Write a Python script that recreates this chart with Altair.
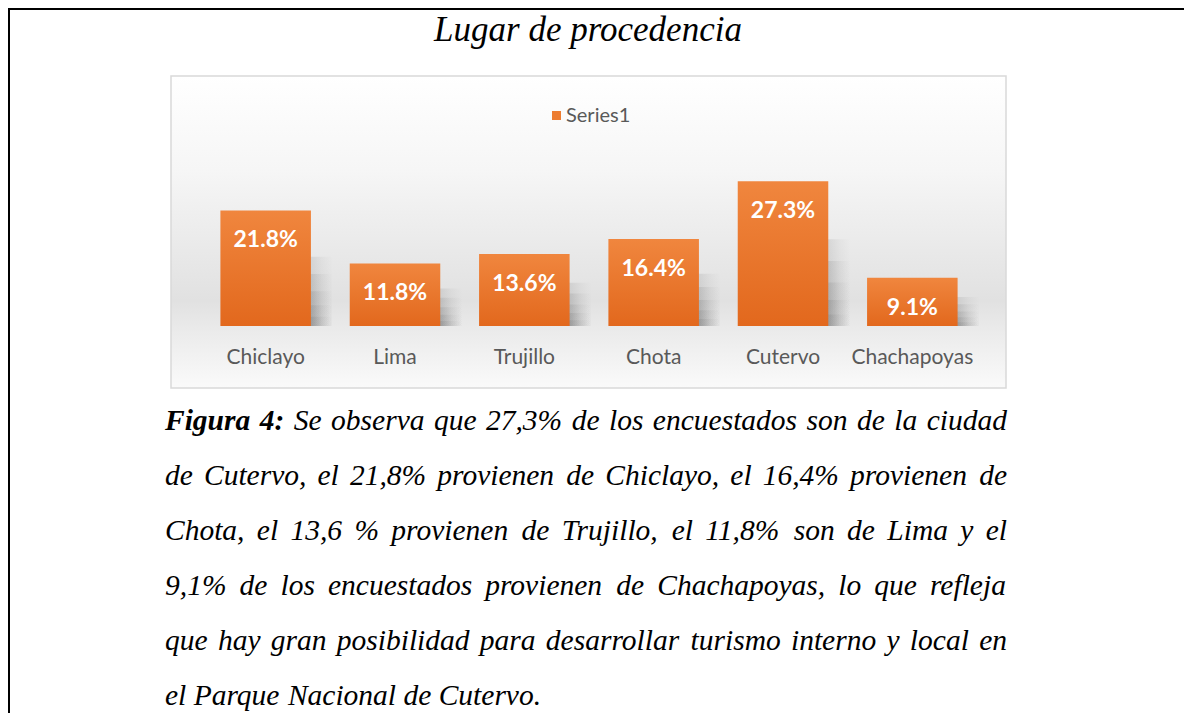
import altair as alt
import pandas as pd

# ---------------- data ----------------
categories = ["Chiclayo", "Lima", "Trujillo", "Chota", "Cutervo", "Chachapoyas"]
values = [21.8, 11.8, 13.6, 16.4, 27.3, 9.1]
value_labels = ["21.8%", "11.8%", "13.6%", "16.4%", "27.3%", "9.1%"]
legend_label = "Series1"
title_text = "Lugar de procedencia"
caption_bold_words = 2  # "Figura 4:"
caption_lines = [
    "Figura 4: Se observa que 27,3% de los encuestados son de la ciudad",
    "de Cutervo, el 21,8% provienen de Chiclayo, el 16,4% provienen de",
    "Chota, el 13,6 % provienen de Trujillo, el 11,8% son de Lima y el",
    "9,1% de los encuestados provienen de Chachapoyas, lo que refleja",
    "que hay gran posibilidad para desarrollar turismo interno y local en",
    "el Parque Nacional de Cutervo.",
]

# ---------------- layout (page pixels) ----------------
OX, OY = 201, 167          # page position of plot-area origin
PLOT_W, PLOT_H = 776, 159
SVG_W, SVG_H = 1176, 705
PAD = {"left": OX - 8, "top": OY - 8,
       "right": SVG_W - (OX - 8) - PLOT_W, "bottom": SVG_H - (OY - 8) - PLOT_H}


def px(x):
    return x - OX


def py(y):
    return y - OY


ORANGE = "#ed7d31"
GRAY_TXT = "#595959"

# Times (Liberation Serif) italic advance widths, per em
IT = {" ": .25, "!": .333, "%": .833, ",": .25, ".": .25, ":": .333,
      "A": .611, "C": .667, "F": .611, "L": .556, "N": .667, "P": .611, "S": .5, "T": .556,
      "a": .5, "b": .5, "c": .444, "d": .5, "e": .444, "f": .278, "g": .5, "h": .5, "i": .278,
      "j": .278, "k": .444, "l": .278, "m": .722, "n": .5, "o": .5, "p": .5, "q": .5, "r": .389,
      "s": .389, "t": .278, "u": .5, "v": .444, "w": .667, "x": .444, "y": .444, "z": .389}
for d in "0123456789":
    IT[d] = .5
BI = dict(IT)
BI.update({"F": .667, "u": .556, ":": .333})

FS = 29.5
LEFT, RIGHT = 165, 1007
BASE0, LEAD = 430, 55

rows_n, rows_b = [], []
for li, line in enumerate(caption_lines):
    words = line.split(" ")
    bold = [li == 0 and wi < caption_bold_words for wi in range(len(words))]
    widths = [sum((BI if b else IT).get(ch, .5) for ch in w) * FS for w, b in zip(words, bold)]
    last = li == len(caption_lines) - 1
    gap = .25 * FS if last else (RIGHT - LEFT - sum(widths)) / (len(words) - 1)
    x = LEFT
    for w, wd, b in zip(words, widths, bold):
        r = {"word": w, "px": px(x), "py": py(BASE0 + li * LEAD)}
        (rows_b if b else rows_n).append(r)
        x += wd + gap

df = pd.DataFrame({"cat": categories, "val": values, "lab": value_labels})
one = pd.DataFrame({"k": [0]})

# ---------------- decorations ----------------
bg_grad = alt.Gradient(gradient="linear", x1=0, x2=0, y1=0, y2=1, stops=[
    alt.GradientStop(color="#ffffff", offset=0),
    alt.GradientStop(color="#f6f6f6", offset=0.3),
    alt.GradientStop(color="#e1e1e1", offset=0.72),
    alt.GradientStop(color="#ebebeb", offset=0.82),
    alt.GradientStop(color="#fafafa", offset=1),
])
bar_grad = alt.Gradient(gradient="linear", x1=0, x2=0, y1=0, y2=1, stops=[
    alt.GradientStop(color="#f0863e", offset=0),
    alt.GradientStop(color="#e2681d", offset=1),
])
shadow_grad = alt.Gradient(gradient="linear", x1=0.76, y1=0, x2=1, y2=0, stops=[
    alt.GradientStop(color="rgba(80,80,80,0.13)", offset=0),
    alt.GradientStop(color="rgba(80,80,80,0.05)", offset=0.5),
    alt.GradientStop(color="rgba(80,80,80,0)", offset=1),
])

frame_top = alt.Chart(one).mark_rule(color="black", strokeWidth=2).encode(
    x=alt.value(px(8)), x2=alt.value(px(1200)), y=alt.value(py(9)))
frame_left = alt.Chart(one).mark_rule(color="black", strokeWidth=2).encode(
    x=alt.value(px(9)), y=alt.value(py(8)), y2=alt.value(py(730)))

box = alt.Chart(one).mark_rect(fill=bg_grad, stroke="#d9d9d9", strokeWidth=1.5).encode(
    x=alt.value(px(171)), x2=alt.value(px(1006)), y=alt.value(py(76)), y2=alt.value(py(388)))

title = alt.Chart(one).mark_text(font="Liberation Serif", fontStyle="italic", fontSize=35,
                                 align="center", baseline="alphabetic", color="black").encode(
    x=alt.value(px(588)), y=alt.value(py(41)), text=alt.value(title_text))

legend_sq = alt.Chart(one).mark_rect(color=ORANGE).encode(
    x=alt.value(px(552)), x2=alt.value(px(561)), y=alt.value(py(111)), y2=alt.value(py(120)))
legend_tx = alt.Chart(one).mark_text(font="Lato", fontSize=20, color=GRAY_TXT,
                                     align="left", baseline="middle").encode(
    x=alt.value(px(566)), y=alt.value(py(116)), text=alt.value(legend_label))

# ---------------- bars ----------------
xenc = alt.X("cat:N", sort=categories,
             scale=alt.Scale(paddingInner=0.3, paddingOuter=0.15), axis=None)
yscale = alt.Scale(domain=[0, 30], nice=False)
yenc = alt.Y("val:Q", scale=yscale, axis=None)

shadow_layers = [
    alt.Chart(df).transform_calculate(sh=f"datum.val * {k}").mark_bar(
        fill=shadow_grad, strokeWidth=0, xOffset=22).encode(
        x=xenc, y=alt.Y("sh:Q", scale=yscale, axis=None))
    for k in (0.6, 0.45, 0.3, 0.18, 0.08)
]
bars = alt.Chart(df).mark_bar(fill=bar_grad, strokeWidth=0).encode(x=xenc, y=yenc)
labels = alt.Chart(df).mark_text(font="Lato", fontWeight="bold", fontSize=23, color="white",
                                 baseline="alphabetic", dy=37).encode(x=xenc, y=yenc, text="lab:N")
cat_labels = alt.Chart(df).mark_text(font="Lato", fontSize=21, color=GRAY_TXT,
                                     baseline="alphabetic").encode(
    x=xenc, y=alt.value(py(364)), text="cat:N")

# ---------------- caption ----------------
cap_n = alt.Chart(pd.DataFrame(rows_n)).mark_text(
    font="Liberation Serif", fontStyle="italic", fontSize=FS, align="left",
    baseline="alphabetic", color="black").encode(
    x=alt.X("px:Q", scale=None, axis=None), y=alt.Y("py:Q", scale=None, axis=None), text="word:N")
cap_b = alt.Chart(pd.DataFrame(rows_b)).mark_text(
    font="Liberation Serif", fontStyle="italic", fontWeight="bold", fontSize=FS, align="left",
    baseline="alphabetic", color="black").encode(
    x=alt.X("px:Q", scale=None, axis=None), y=alt.Y("py:Q", scale=None, axis=None), text="word:N")

bar_layer = alt.layer(*shadow_layers, bars, labels, cat_labels)

chart = alt.layer(
    frame_top, frame_left, box, title, legend_sq, legend_tx, bar_layer, cap_n, cap_b
).resolve_scale(x="independent", y="independent").properties(
    width=PLOT_W, height=PLOT_H, padding=PAD,
    autosize=alt.AutoSizeParams(type="none"), background="white",
).configure_view(stroke=None)

chart.save("out.html", embed_options={"renderer": "svg", "actions": False})
